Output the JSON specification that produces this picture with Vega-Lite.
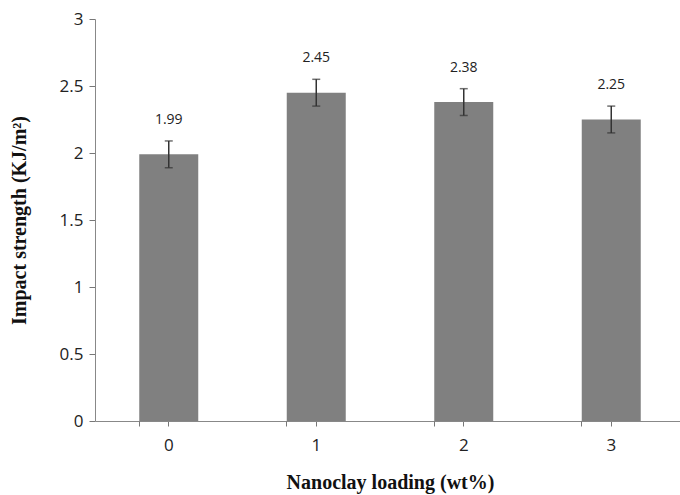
{
  "$schema": "https://vega.github.io/schema/vega-lite/v6.json",
  "autosize": {"type": "none"},
  "width": 585,
  "height": 402,
  "padding": {"left": 95, "top": 19, "right": 0, "bottom": 74},
  "background": "white",
  "config": {"view": {"stroke": null}},
  "data": {"values": [
    {"loading": "0", "strength": 1.99, "lo": 1.89, "hi": 2.09, "label": "1.99"},
    {"loading": "1", "strength": 2.45, "lo": 2.35, "hi": 2.55, "label": "2.45"},
    {"loading": "2", "strength": 2.38, "lo": 2.28, "hi": 2.48, "label": "2.38"},
    {"loading": "3", "strength": 2.25, "lo": 2.15, "hi": 2.35, "label": "2.25"}
  ]},
  "encoding": {
    "x": {"field": "loading", "type": "nominal", "sort": null, "axis": null,
      "scale": {"range": [0, 590], "paddingInner": 0.6, "paddingOuter": 0.3}}
  },
  "layer": [
    {
      "mark": {"type": "bar", "color": "#808080"},
      "encoding": {
        "x": {"field": "loading", "type": "nominal", "sort": null,
          "axis": {"orient": "bottom", "title": "Nanoclay loading (wt%)", "labelAngle": 0,
            "labelFont": "Open Sans", "labelFontSize": 17, "labelColor": "#222",
            "labelPadding": 11, "tickSize": 5, "tickColor": "#777", "domainColor": "#888",
            "titleFont": "Liberation Serif", "titleFontSize": 20, "titleFontWeight": "bold",
            "titleColor": "#111", "titlePadding": 19, "zindex": 1}},
        "y": {"field": "strength", "type": "quantitative",
          "scale": {"domain": [0, 3], "nice": false},
          "axis": {"title": "Impact strength (KJ/m²)", "values": [0, 0.5, 1, 1.5, 2, 2.5, 3],
            "format": "~g", "grid": false, "labelFont": "Open Sans", "labelFontSize": 17,
            "labelColor": "#222", "labelPadding": 6, "tickSize": 6, "tickColor": "#777",
            "domainColor": "#888", "titleFont": "Liberation Serif", "titleFontSize": 20,
            "titleFontWeight": "bold", "titleColor": "#111", "titlePadding": 30}}
      }
    },
    {
      "mark": {"type": "rule", "color": "#333", "strokeWidth": 1.5},
      "encoding": {
        "x": {"field": "loading", "type": "nominal", "sort": null,
          "axis": {"orient": "top", "offset": -402, "bandPosition": 0, "tickSize": -5,
            "labels": false, "domain": false, "title": null, "tickColor": "#777", "zindex": 1}},
        "y": {"field": "lo", "type": "quantitative"},
        "y2": {"field": "hi"}
      }
    },
    {
      "mark": {"type": "tick", "color": "#333", "thickness": 1.5, "size": 8, "orient": "horizontal"},
      "encoding": {
        "y": {"field": "hi", "type": "quantitative"}
      }
    },
    {
      "mark": {"type": "tick", "color": "#333", "thickness": 1.5, "size": 8, "orient": "horizontal"},
      "encoding": {
        "y": {"field": "lo", "type": "quantitative"}
      }
    },
    {
      "mark": {"type": "text", "font": "Open Sans", "fontSize": 14, "color": "#222", "dy": -21, "baseline": "middle"},
      "encoding": {
        "y": {"field": "hi", "type": "quantitative"},
        "text": {"field": "label"}
      }
    }
  ],
  "resolve": {"axis": {"x": "independent"}}
}
